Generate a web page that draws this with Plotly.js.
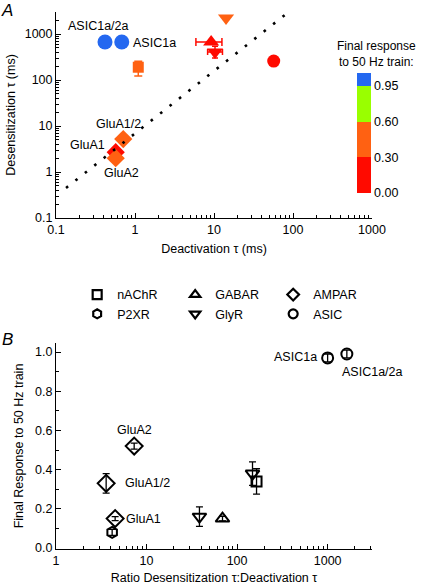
<!DOCTYPE html>
<html><head><meta charset="utf-8">
<script src="https://cdn.plot.ly/plotly-3.0.1.min.js"></script>
<style>html,body{margin:0;padding:0;background:#fff}#chart{width:422px;height:587px}</style>
</head><body><div id="chart"></div>
<script>
// ===== Panel A: deactivation tau vs desensitization tau (ms) =====
const nachrDeact = [1.1];
const nachrDesens = [190];
const nachrDesensErr = [67];

const gabarDeact = [9.2];
const gabarDesens = [670];
const gabarDeactErrPlus = [3.4];
const gabarDeactErrMinus = [3.3];

const amparNames = ['GluA1', 'GluA1/2', 'GluA2'];
const amparDeact = [0.57, 0.71, 0.57];
const amparDesens = [2.7, 5.2, 2.0];

const p2xrDeact = [57];
const p2xrDesens = [258];

const glyrDeact = [10.3, 14.2];
const glyrDesens = [405, 2230];
const glyrDeactErrPlus = [2.5, 0];
const glyrDeactErrMinus = [2.0, 0];
const glyrDesensErrPlus = [140, 0];
const glyrDesensErrMinus = [105, 0];

const asicNames = ['ASIC1a', 'ASIC1a/2a'];
const asicDeact = [0.68, 0.417];
const asicDesens = [670, 670];

const fitDeact = [0.134, 81];
const fitDesens = [0.45, 2700];

// ===== Panel B: ratio desens:deact vs final response to 50 Hz train =====
const nachrRatio = [164];
const nachrResp = [0.34];
const nachrRespErr = [0.065];

const gabarRatio = [69];
const gabarResp = [0.15];
const gabarRespErr = [0.012];

const amparRatio = [4.5, 3.58, 7.3];
const amparResp = [0.15, 0.33, 0.52];
const amparRespErr = [0.01, 0.05, 0.015];

const p2xrRatio = [4.17];
const p2xrResp = [0.08];
const p2xrRespErr = [0.015];

const glyrRatio = [38.4, 148];
const glyrResp = [0.16, 0.38];
const glyrRespErr = [0.05, 0.06];

const asicRatio = [1000, 1630];
const asicResp = [0.97, 0.99];
const asicRespErr = [0.02, 0.02];

// ===== Legend, colour bins and ticks =====
const legendNames = ['nAChR', 'GABAR', 'AMPAR', 'P2XR', 'GlyR', 'ASIC'];
const legendSymbols = ['square', 'triangle-up', 'diamond', 'hexagon', 'triangle-down', 'circle'];

const respBins = [0.00, 0.30, 0.60, 0.95, 1.00];
const binLabels = ['0.00', '0.30', '0.60', '0.95'];
const binColors = ['#ff0a00', '#ff6112', '#99ff00', '#2468f0'];

const aDeactTicks = [0.1, 1, 10, 100, 1000];
const aDeactTickText = ['0.1', '1', '10', '100', '1000'];
const aDesensTicks = [0.1, 1, 10, 100, 1000];
const aDesensTickText = ['0.1', '1', '10', '100', '1000'];
const bRatioTicks = [1, 10, 100, 1000];
const bRatioTickText = ['1', '10', '100', '1000'];
const bRespTicks = [0, 0.2, 0.4, 0.6, 0.8, 1.0];
const bRespTickText = ['0.0', '0.2', '0.4', '0.6', '0.8', '1.0'];

// ----- helpers -----
function binIndex(v) {
  for (let i = 0; i < respBins.length - 1; i++) {
    if (v >= respBins[i] && (v < respBins[i + 1] || i === respBins.length - 2)) return i;
  }
  return 0;
}
const cbMax = 3.36; // blue segment drawn shorter, as in the reference
function colorIdx(v) { return binIndex(v) + 0.1; }
const colorscale = [];
binColors.forEach((c, i) => {
  colorscale.push([i / cbMax, c]);
  colorscale.push([Math.min(i + 1, cbMax) / cbMax, c]);
});

const FONT = '"Liberation Sans", Arial, Helvetica, sans-serif';
const black = '#000';

function aTrace(x, y, resp, symbol, size, extra) {
  return Object.assign({
    type: 'scatter', mode: 'markers', x: x, y: y, xaxis: 'x', yaxis: 'y',
    showlegend: false, hoverinfo: 'skip', cliponaxis: false,
    marker: { symbol: symbol, size: size, color: resp.map(colorIdx), coloraxis: 'coloraxis', line: { width: 0 } }
  }, extra || {});
}
function bTrace(name, x, y, err, symbol, size) {
  return {
    type: 'scatter', mode: 'markers', name: name, x: x, y: y, xaxis: 'x2', yaxis: 'y2',
    showlegend: false, hoverinfo: 'skip', cliponaxis: false,
    marker: { symbol: symbol + '-open', size: size, color: black, line: { width: 2, color: black } },
    error_y: { type: 'data', array: err, color: black, thickness: 1.3, width: 3.5 }
  };
}
function legendTrace(name, symbol) {
  return {
    type: 'scatter', mode: 'markers', name: name, x: [null], y: [null], xaxis: 'x2', yaxis: 'y2',
    showlegend: true, hoverinfo: 'skip',
    marker: { symbol: symbol + '-open', size: 9, color: black, line: { width: 2.2, color: black } }
  };
}

const traces = [
  // Panel A
  aTrace(nachrDeact, nachrDesens, nachrResp, 'square', 11, {
    error_y: { type: 'data', array: nachrDesensErr, color: binColors[binIndex(nachrResp[0])], thickness: 1.5, width: 4 } }),
  aTrace(p2xrDeact, p2xrDesens, p2xrResp, 'circle', 13),
  aTrace(asicDeact, asicDesens, asicResp, 'circle', 15),
  aTrace(glyrDeact, glyrDesens, glyrResp, 'triangle-down', 14, {
    error_x: { type: 'data', array: glyrDeactErrPlus, arrayminus: glyrDeactErrMinus, color: binColors[0], thickness: 1.5, width: 3 },
    error_y: { type: 'data', array: glyrDesensErrPlus, arrayminus: glyrDesensErrMinus, color: binColors[0], thickness: 1.5, width: 3 } }),
  aTrace(gabarDeact, gabarDesens, gabarResp, 'triangle-up', 14, {
    error_x: { type: 'data', array: gabarDeactErrPlus, arrayminus: gabarDeactErrMinus, color: binColors[0], thickness: 1.5, width: 4 } }),
  aTrace(amparDeact, amparDesens, amparResp, 'diamond', 14),
  {
    type: 'scatter', mode: 'lines', x: fitDeact, y: fitDesens, xaxis: 'x', yaxis: 'y',
    showlegend: false, hoverinfo: 'skip',
    line: { color: black, width: 2.6, dash: '2.6px,9.4px' }
  },
  // Panel B
  bTrace('nAChR', nachrRatio, nachrResp, nachrRespErr, 'square', 10),
  bTrace('GABAR', gabarRatio, gabarResp, gabarRespErr, 'triangle-up', 12),
  bTrace('AMPAR', amparRatio, amparResp, amparRespErr, 'diamond', 13),
  bTrace('P2XR', p2xrRatio, p2xrResp, p2xrRespErr, 'hexagon', 11),
  bTrace('GlyR', glyrRatio, glyrResp, glyrRespErr, 'triangle-down', 12),
  bTrace('ASIC', asicRatio, asicResp, asicRespErr, 'circle', 11)
];
legendNames.forEach((n, i) => traces.push(legendTrace(n, legendSymbols[i])));

function axisStyle(extra) {
  return Object.assign({
    showline: true, linecolor: black, linewidth: 1, mirror: false,
    showgrid: false, zeroline: false,
    ticks: 'inside', ticklen: 5, tickwidth: 1, tickcolor: black,
    tickfont: { family: FONT, size: 12.5, color: black },
    fixedrange: true
  }, extra);
}

const annFont = { family: FONT, size: 12.5, color: black };
function lab(text, x, y, xref, yref, anchor) {
  return { text: text, x: x, y: y, xref: xref, yref: yref, showarrow: false,
           xanchor: anchor || 'center', yanchor: 'middle', font: annFont };
}

const layout = {
  width: 422, height: 587,
  margin: { l: 56, r: 50, t: 12, b: 38, pad: 0 },
  paper_bgcolor: '#fff', plot_bgcolor: 'rgba(0,0,0,0)',
  font: { family: FONT, size: 12.5, color: black },
  showlegend: true,
  legend: {
    orientation: 'h', x: 0.067, xanchor: 'left', y: 0.501, yanchor: 'top',
    entrywidth: 53, entrywidthmode: 'pixels', itemwidth: 30, tracegroupgap: 0,
    font: { family: FONT, size: 12.5, color: black }, bgcolor: 'rgba(0,0,0,0)'
  },
  coloraxis: {
    cmin: 0, cmax: cbMax, colorscale: colorscale, showscale: true,
    colorbar: {
      x: 0.9525, xanchor: 'left', xpad: 0, y: 0.663, yanchor: 'bottom', ypad: 0,
      len: 0.223, lenmode: 'fraction', thickness: 14, thicknessmode: 'pixels',
      outlinewidth: 0, ticks: '', tickmode: 'array', tickvals: [0, 1, 2, 3], ticktext: binLabels,
      tickfont: { family: FONT, size: 12.5, color: black }
    }
  },
  xaxis: axisStyle({
    domain: [0, 1], anchor: 'y', type: 'log', range: [-1, 3],
    tickmode: 'array', tickvals: aDeactTicks, ticktext: aDeactTickText,
    minor: { ticks: 'inside', ticklen: 3, tickwidth: 1, tickcolor: black, dtick: 'D1' },
    title: { text: 'Deactivation τ (ms)', standoff: 8, font: annFont }
  }),
  yaxis: axisStyle({
    domain: [0.6164, 1], anchor: 'x', type: 'log', range: [-1, 3.48],
    tickmode: 'array', tickvals: aDesensTicks, ticktext: aDesensTickText,
    minor: { ticks: 'inside', ticklen: 3, tickwidth: 1, tickcolor: black, dtick: 'D1' },
    title: { text: 'Desensitization τ (ms)', standoff: 6, font: annFont }
  }),
  xaxis2: axisStyle({
    domain: [0, 1], anchor: 'y2', type: 'log', range: [0, 3.49],
    tickmode: 'array', tickvals: bRatioTicks, ticktext: bRatioTickText,
    minor: { ticks: 'inside', ticklen: 3, tickwidth: 1, tickcolor: black, dtick: 'D1' },
    title: { text: 'Ratio Desensitization τ:Deactivation τ', standoff: 6, font: annFont }
  }),
  yaxis2: axisStyle({
    domain: [0, 0.3836], anchor: 'x2', range: [-0.005, 1.046],
    tickmode: 'array', tickvals: bRespTicks, ticktext: bRespTickText,
    minor: { ticks: 'inside', ticklen: 3, tickwidth: 1, tickcolor: black, dtick: 0.1, tick0: 0 },
    title: { text: 'Final Response to 50 Hz train', standoff: 8, font: annFont }
  }),
  annotations: [
    { text: '<i>A</i>', x: -0.155, y: 1.002, xref: 'paper', yref: 'paper', showarrow: false,
      xanchor: 'center', yanchor: 'middle', font: { family: FONT, size: 17, color: black } },
    { text: '<i>B</i>', x: -0.152, y: 0.391, xref: 'paper', yref: 'paper', showarrow: false,
      xanchor: 'center', yanchor: 'middle', font: { family: FONT, size: 17, color: black } },
    { text: 'Final response<br>to 50 Hz train:', x: 1.0127, y: 0.922, xref: 'paper', yref: 'paper',
      showarrow: false, xanchor: 'center', yanchor: 'middle', align: 'center',
      font: { family: FONT, size: 12, color: black } },
    // Panel A labels (log10 coordinates)
    lab(asicNames[1], -0.468, 3.17, 'x', 'y'),
    lab(asicNames[0], 0.253, 2.80, 'x', 'y'),
    lab(amparNames[1], -0.215, 1.043, 'x', 'y'),
    lab(amparNames[0], -0.601, 0.587, 'x', 'y'),
    lab(amparNames[2], -0.165, -0.022, 'x', 'y'),
    // Panel B labels
    lab(amparNames[2], 0.864, 0.602, 'x2', 'y2'),
    lab(amparNames[1], 1.008, 0.332, 'x2', 'y2'),
    lab(amparNames[0], 0.969, 0.148, 'x2', 'y2'),
    lab(asicNames[0], 2.641, 0.974, 'x2', 'y2'),
    lab(asicNames[1], 3.137, 0.898, 'x2', 'y2', 'left')
  ]
};

Plotly.newPlot('chart', traces, layout, { staticPlot: true, displayModeBar: false });
</script>
</body></html>
